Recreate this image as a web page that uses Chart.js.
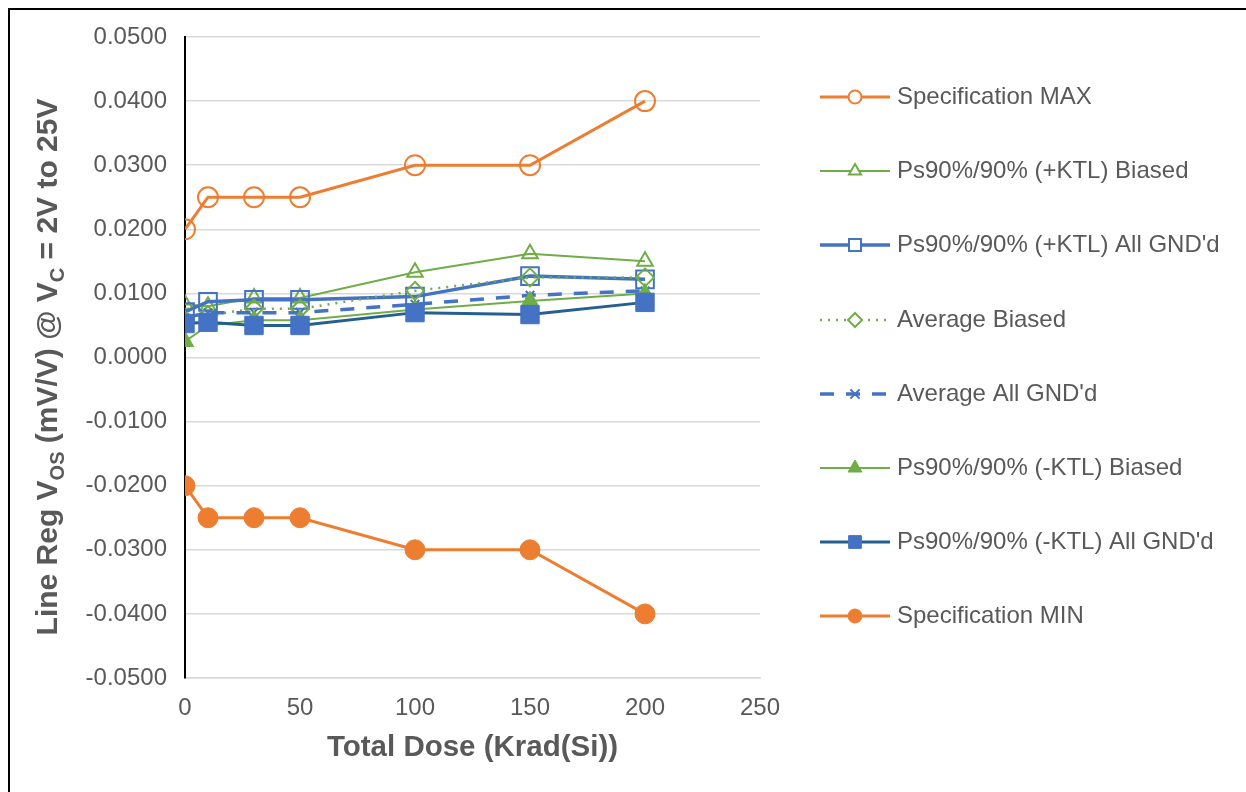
<!DOCTYPE html>
<html lang="en">
<head>
<meta charset="UTF-8" />
<title>Line Reg Vos vs Total Dose</title>
<script src="https://cdn.jsdelivr.net/npm/chart.js@4.4.0/dist/chart.umd.min.js"></script>
<style>
  html, body { margin: 0; padding: 0; background: #fff; overflow: hidden; }
  .frame { position: absolute; left: 8px; top: 8px; width: 1300px; height: 900px; border: 2px solid #000; box-sizing: border-box; }
  .wrap { position: absolute; left: 0; top: 0; width: 1246px; height: 792px; }
</style>
</head>
<body>
<div class="frame"></div>
<div class="wrap"><canvas id="chart" width="1246" height="792"></canvas></div>
<script>
// data
const doses = [0, 10, 30, 50, 100, 150, 200];
const specMax = [0.0200, 0.0250, 0.0250, 0.0250, 0.0300, 0.0300, 0.0400];
const posBiased = [0.0083, 0.0080, 0.0093, 0.0093, 0.0133, 0.0162, 0.0150];
const posGnd = [0.0071, 0.0087, 0.0090, 0.0090, 0.0095, 0.0127, 0.0122];
const avgBiased = [0.0057, 0.0066, 0.0076, 0.0076, 0.0104, 0.0125, 0.0125];
const avgGnd = [0.0062, 0.0070, 0.0070, 0.0070, 0.0083, 0.0097, 0.0104];
const negBiased = [0.0025, 0.0050, 0.0058, 0.0058, 0.0075, 0.0088, 0.0100];
const negGnd = [0.0053, 0.0055, 0.0050, 0.0050, 0.0070, 0.0067, 0.0086];
const specMin = [-0.0200, -0.0250, -0.0250, -0.0250, -0.0300, -0.0300, -0.0400];

const seriesNames = [
  'Specification MAX',
  'Ps90%/90% (+KTL) Biased',
  "Ps90%/90% (+KTL) All GND'd",
  'Average Biased',
  "Average All GND'd",
  'Ps90%/90% (-KTL) Biased',
  "Ps90%/90% (-KTL) All GND'd",
  'Specification MIN'
];

const ORANGE = '#ED7D31', GREEN = '#70AD47', BLUE = '#4472C4', NAVY = '#255E91';
const TEXT = '#595959';
const FONT = '"Liberation Sans", Arial, sans-serif';

const pts = arr => arr.map((v, i) => ({ x: doses[i], y: v }));

// line / marker style per series (legend uses smaller markers)
const styles = [
  { line: ORANGE, width: 3, dash: [], marker: 'circle', r: 10, fill: false, mcol: ORANGE, mw: 2, lr: 6.5 },
  { line: GREEN, width: 2, dash: [], marker: 'triangle', r: 9, fill: false, mcol: GREEN, mw: 2, lr: 7 },
  { line: BLUE, width: 3.5, dash: [], marker: 'rect', r: 12.5, fill: false, mcol: BLUE, mw: 2, lr: 8.5 },
  { line: GREEN, width: 2.5, dash: [2, 6], marker: 'rectRot', r: 9, fill: false, mcol: GREEN, mw: 2, lr: 7 },
  { line: BLUE, width: 3.5, dash: [14, 12], marker: 'crossRot', r: 6, fill: false, mcol: BLUE, mw: 2, lr: 6.5 },
  { line: GREEN, width: 2, dash: [], marker: 'triangle', r: 10, fill: true, mcol: GREEN, mw: 1, lr: 8 },
  { line: NAVY, width: 3, dash: [], marker: 'rect', r: 13, fill: true, mcol: BLUE, mw: 1, lr: 9 },
  { line: ORANGE, width: 3, dash: [], marker: 'circle', r: 10, fill: true, mcol: ORANGE, mw: 1, lr: 7 }
];

const values = [specMax, posBiased, posGnd, avgBiased, avgGnd, negBiased, negGnd, specMin];

const datasets = values.map((arr, i) => {
  const s = styles[i];
  return {
    label: seriesNames[i],
    data: pts(arr),
    borderColor: s.line,
    borderWidth: s.width,
    borderDash: s.dash,
    pointStyle: s.marker,
    pointRadius: s.r,
    pointHoverRadius: s.r,
    pointBorderColor: s.mcol,
    pointBorderWidth: s.mw,
    pointBackgroundColor: s.fill ? s.mcol : 'rgba(0,0,0,0)',
    tension: 0,
    fill: false,
    order: 20 - i
  };
});

// legend drawn on the canvas so line samples keep dash + marker
const sideLegend = {
  id: 'sideLegend',
  afterDraw(chart) {
    const ctx = chart.ctx;
    const x0 = 820, x1 = 890, xm = 855, tx = 897;
    const ys = [97, 171, 245, 320, 394, 468, 542, 616];
    ctx.save();
    seriesNames.forEach((name, i) => {
      const s = styles[i];
      const y = ys[i];
      ctx.strokeStyle = s.line;
      ctx.lineWidth = s.width;
      ctx.setLineDash(s.dash);
      ctx.beginPath();
      ctx.moveTo(x0, y);
      ctx.lineTo(x1, y);
      ctx.stroke();
      ctx.setLineDash([]);
      ctx.strokeStyle = s.mcol;
      ctx.fillStyle = s.fill ? s.mcol : '#fff';
      ctx.lineWidth = s.mw;
      Chart.helpers.drawPoint(ctx, { pointStyle: s.marker, radius: s.lr, rotation: 0, borderWidth: s.mw }, xm, y);
      ctx.fillStyle = TEXT;
      ctx.font = '24px ' + FONT;
      ctx.textBaseline = 'middle';
      ctx.textAlign = 'left';
      ctx.fillText(name, tx, y);
    });
    ctx.restore();
  }
};

// axis titles (the y title needs subscripts)
const axisTitles = {
  id: 'axisTitles',
  afterDraw(chart) {
    const ctx = chart.ctx;
    const area = chart.chartArea;
    ctx.save();
    ctx.fillStyle = TEXT;
    ctx.textBaseline = 'alphabetic';
    ctx.font = 'bold 29.5px ' + FONT;
    ctx.textAlign = 'center';
    ctx.fillText('Total Dose (Krad(Si))', (area.left + area.right) / 2, 756);

    const big = 'bold 30px ' + FONT, small = 'bold 20px ' + FONT;
    const parts = [
      ['Line Reg V', big, 0], ['OS', small, 7], [' (mV/V) @ V', big, 0], ['C', small, 7], [' = 2V to 25V', big, 0]
    ];
    let total = 0;
    parts.forEach(p => { ctx.font = p[1]; total += ctx.measureText(p[0]).width; });
    ctx.translate(57, 367);
    ctx.rotate(-Math.PI / 2);
    ctx.textAlign = 'left';
    let x = -total / 2;
    parts.forEach(p => {
      ctx.font = p[1];
      ctx.fillText(p[0], x, p[2]);
      x += ctx.measureText(p[0]).width;
    });
    ctx.restore();
  }
};

new Chart(document.getElementById('chart'), {
  type: 'line',
  data: { datasets },
  options: {
    responsive: false,
    animation: false,
    events: [],
    layout: { padding: { top: 37, right: 486, left: 0, bottom: 0 } },
    plugins: { legend: { display: false }, tooltip: { enabled: false } },
    scales: {
      x: {
        type: 'linear',
        min: 0,
        max: 250,
        ticks: { stepSize: 50, color: TEXT, font: { family: FONT, size: 24 }, padding: 16 },
        grid: { display: false, drawTicks: false },
        border: { display: true, color: '#d9d9d9', width: 1.5 },
        afterFit(scale) { scale.height = 114; }
      },
      y: {
        min: -0.05,
        max: 0.05,
        ticks: {
          stepSize: 0.01,
          color: TEXT,
          font: { family: FONT, size: 24 },
          padding: 18,
          callback: v => (Math.abs(v) < 1e-9 ? 0 : v).toFixed(4)
        },
        grid: { color: '#d9d9d9', lineWidth: 1.5, drawTicks: false },
        border: { display: true, color: '#000', width: 2 },
        afterFit(scale) { scale.width = 185; }
      }
    }
  },
  plugins: [sideLegend, axisTitles]
});
</script>
</body>
</html>
